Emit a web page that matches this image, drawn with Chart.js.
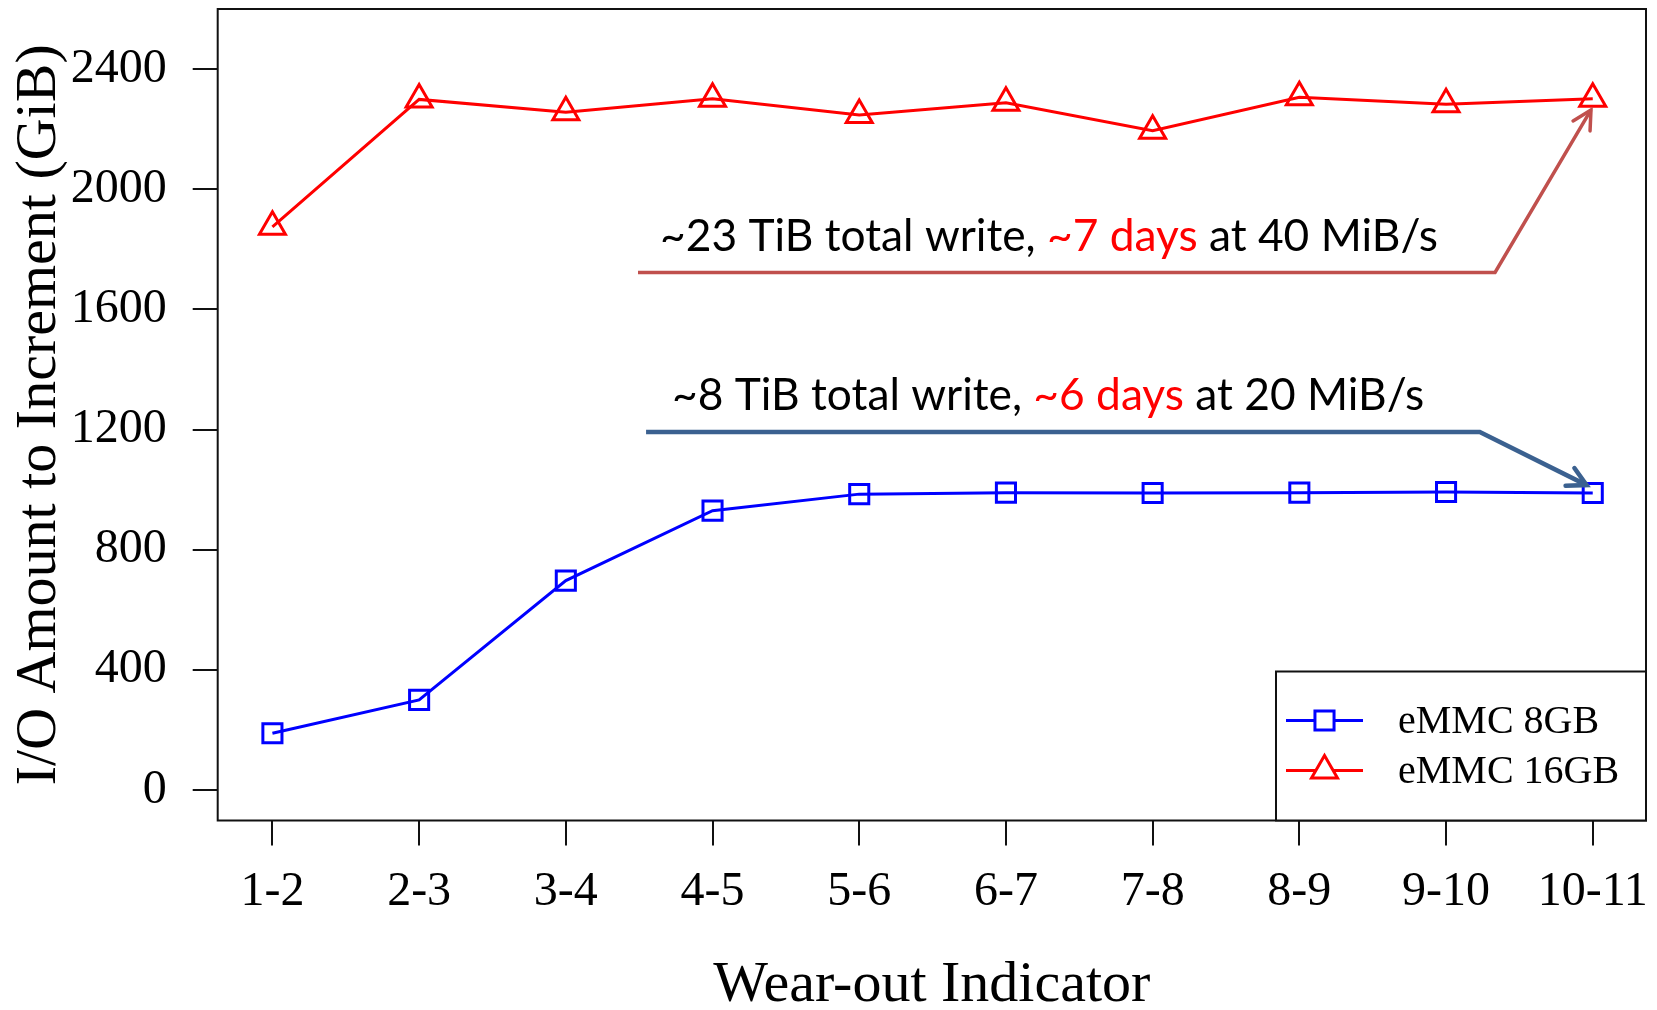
<!DOCTYPE html>
<html>
<head>
<meta charset="utf-8">
<script src="https://cdn.jsdelivr.net/npm/chart.js@4/dist/chart.umd.min.js"></script>
<style>
  body { margin: 0; background: #fff; }
  canvas { display: block; }
</style>
</head>
<body>
<canvas id="myChart" width="1657" height="1010"></canvas>
<script>
// wear-out indicator steps
const labels = ['1-2', '2-3', '3-4', '4-5', '5-6', '6-7', '7-8', '8-9', '9-10', '10-11'];
// GiB written to move the indicator one step
const emmc8 = [189, 300, 697, 930, 985, 990, 989, 990, 992, 989];
const emmc16 = [1875, 2299, 2256, 2301, 2247, 2288, 2195, 2306, 2283, 2301];
const yTicks = [0, 400, 800, 1200, 1600, 2000, 2400];

const serif = "'Liberation Serif', 'Times New Roman', serif";
const sans = "Lato, 'Open Sans', sans-serif";

// callouts, in data coordinates (x = step index, y = GiB)
const notes = [
  {
    parts: [['~23 TiB total write, ', '#000'], ['~7 days', '#ff0000'], [' at 40 MiB/s', '#000']],
    tx: 2.642, ty: 1794,
    color: '#c0504d', width: 3.5,
    x0: 2.492, x1: 8.334, y: 1723, ax: 8.988, ay: 2264
  },
  {
    parts: [['~8 TiB total write, ', '#000'], ['~6 days', '#ff0000'], [' at 20 MiB/s', '#000']],
    tx: 2.724, ty: 1265,
    color: '#3b6190', width: 4.5,
    x0: 2.547, x1: 8.23, y: 1192, ax: 8.958, ay: 1015
  }
];

const overlay = {
  id: 'overlay',
  afterDraw(chart) {
    const {ctx, chartArea: a, scales: {x, y}} = chart;
    ctx.save();

    // plot frame
    ctx.strokeStyle = '#111';
    ctx.lineWidth = 2;
    ctx.strokeRect(a.left, a.top, a.right - a.left, a.bottom - a.top);

    // text size fitted to the width of the first callout
    ctx.font = '100px ' + sans;
    const full = notes[0].parts.map(p => p[0]).join('');
    const size = 100 * 778 / ctx.measureText(full).width;
    ctx.font = size + 'px ' + sans;
    ctx.textBaseline = 'alphabetic';
    ctx.textAlign = 'left';

    notes.forEach(n => {
      let px = x.getPixelForValue(n.tx);
      const py = y.getPixelForValue(n.ty);
      n.parts.forEach(([t, c]) => {
        ctx.fillStyle = c;
        ctx.fillText(t, px, py);
        px += ctx.measureText(t).width;
      });

      const sx = x.getPixelForValue(n.x0);
      const bx = x.getPixelForValue(n.x1);
      const ly = y.getPixelForValue(n.y);
      const tx = x.getPixelForValue(n.ax);
      const ty = y.getPixelForValue(n.ay);
      ctx.strokeStyle = n.color;
      ctx.lineWidth = n.width;
      ctx.lineJoin = 'miter';
      ctx.lineCap = 'butt';
      ctx.beginPath();
      ctx.moveTo(sx, ly);
      ctx.lineTo(bx, ly);
      ctx.lineTo(tx, ty);
      ctx.stroke();
      // open arrow head
      const ang = Math.atan2(ty - ly, tx - bx);
      const len = 21, spread = 28 * Math.PI / 180;
      ctx.lineCap = 'round';
      ctx.beginPath();
      ctx.moveTo(tx - len * Math.cos(ang - spread), ty - len * Math.sin(ang - spread));
      ctx.lineTo(tx, ty);
      ctx.lineTo(tx - len * Math.cos(ang + spread), ty - len * Math.sin(ang + spread));
      ctx.stroke();
    });

    // legend box in the lower right corner
    const lw = 370, lh = 149;
    const lx = a.right - lw, ly0 = a.bottom - lh;
    ctx.fillStyle = '#fff';
    ctx.fillRect(lx, ly0, lw, lh);
    ctx.strokeStyle = '#111';
    ctx.lineWidth = 2;
    ctx.strokeRect(lx, ly0, lw, lh);

    ctx.font = '40px ' + serif;
    ctx.textBaseline = 'middle';
    chart.data.datasets.forEach((ds, i) => {
      const iy = ly0 + 49 + i * 50;
      ctx.strokeStyle = ds.borderColor;
      ctx.lineWidth = 3;
      ctx.lineCap = 'butt';
      ctx.beginPath();
      ctx.moveTo(lx + 10, iy);
      ctx.lineTo(lx + 87, iy);
      ctx.stroke();
      ctx.fillStyle = '#fff';
      Chart.helpers.drawPoint(ctx, {
        pointStyle: ds.pointStyle, radius: ds.pointRadius, borderWidth: 3, rotation: 0
      }, lx + 48.5, iy);
      ctx.fillStyle = '#000';
      ctx.fillText(ds.label, lx + 122, iy + 2);
    });

    ctx.restore();
  }
};

new Chart(document.getElementById('myChart').getContext('2d'), {
  type: 'line',
  data: {
    datasets: [
      {
        label: 'eMMC 8GB',
        data: emmc8.map((v, i) => ({x: i, y: v})),
        borderColor: '#0000ff',
        backgroundColor: 'rgba(0,0,0,0)',
        borderWidth: 3,
        pointStyle: 'rect',
        pointRadius: 13.5,
        pointBorderWidth: 3,
        tension: 0
      },
      {
        label: 'eMMC 16GB',
        data: emmc16.map((v, i) => ({x: i, y: v})),
        borderColor: '#ff0000',
        backgroundColor: 'rgba(0,0,0,0)',
        borderWidth: 3,
        pointStyle: 'triangle',
        pointRadius: 15,
        pointBorderWidth: 3,
        tension: 0
      }
    ]
  },
  options: {
    responsive: false,
    devicePixelRatio: 1,
    animation: false,
    layout: {autoPadding: false, padding: {top: 9, right: 11, left: 0, bottom: 0}},
    plugins: {
      legend: {display: false},
      tooltip: {enabled: false}
    },
    scales: {
      x: {
        type: 'linear',
        min: -0.373,
        max: 9.363,
        afterBuildTicks: (s) => { s.ticks = labels.map((_, i) => ({value: i})); },
        afterFit: (s) => {
          s.height = 189.5;
          s.paddingLeft = 0;
          s.paddingRight = 0;
        },
        border: {display: false},
        grid: {drawOnChartArea: false, drawTicks: true, tickLength: 25, color: '#111', lineWidth: 2},
        ticks: {
          autoSkip: false,
          maxRotation: 0,
          padding: 18,
          color: '#000',
          font: {family: serif, size: 48},
          callback: (v) => labels[v]
        },
        title: {
          display: true,
          text: 'Wear-out Indicator',
          color: '#000',
          font: {family: serif, size: 58, lineHeight: 0.8},
          padding: {top: 0, bottom: 1}
        }
      },
      y: {
        min: -101.5,
        max: 2600,
        afterBuildTicks: (s) => { s.ticks = yTicks.map(v => ({value: v})); },
        afterFit: (s) => {
          s.width = 217.7;
          s.paddingTop = 0;
          s.paddingBottom = 0;
        },
        border: {display: false},
        grid: {drawOnChartArea: false, drawTicks: true, tickLength: 25, color: '#111', lineWidth: 2},
        ticks: {
          padding: 26,
          color: '#000',
          font: {family: serif, size: 48},
          callback: (v) => String(v)
        },
        title: {
          display: true,
          text: 'I/O Amount to Increment (GiB)',
          color: '#000',
          font: {family: serif, size: 58, lineHeight: 0.8},
          padding: {top: 17, bottom: 0}
        }
      }
    }
  },
  plugins: [overlay]
});
</script>
</body>
</html>
